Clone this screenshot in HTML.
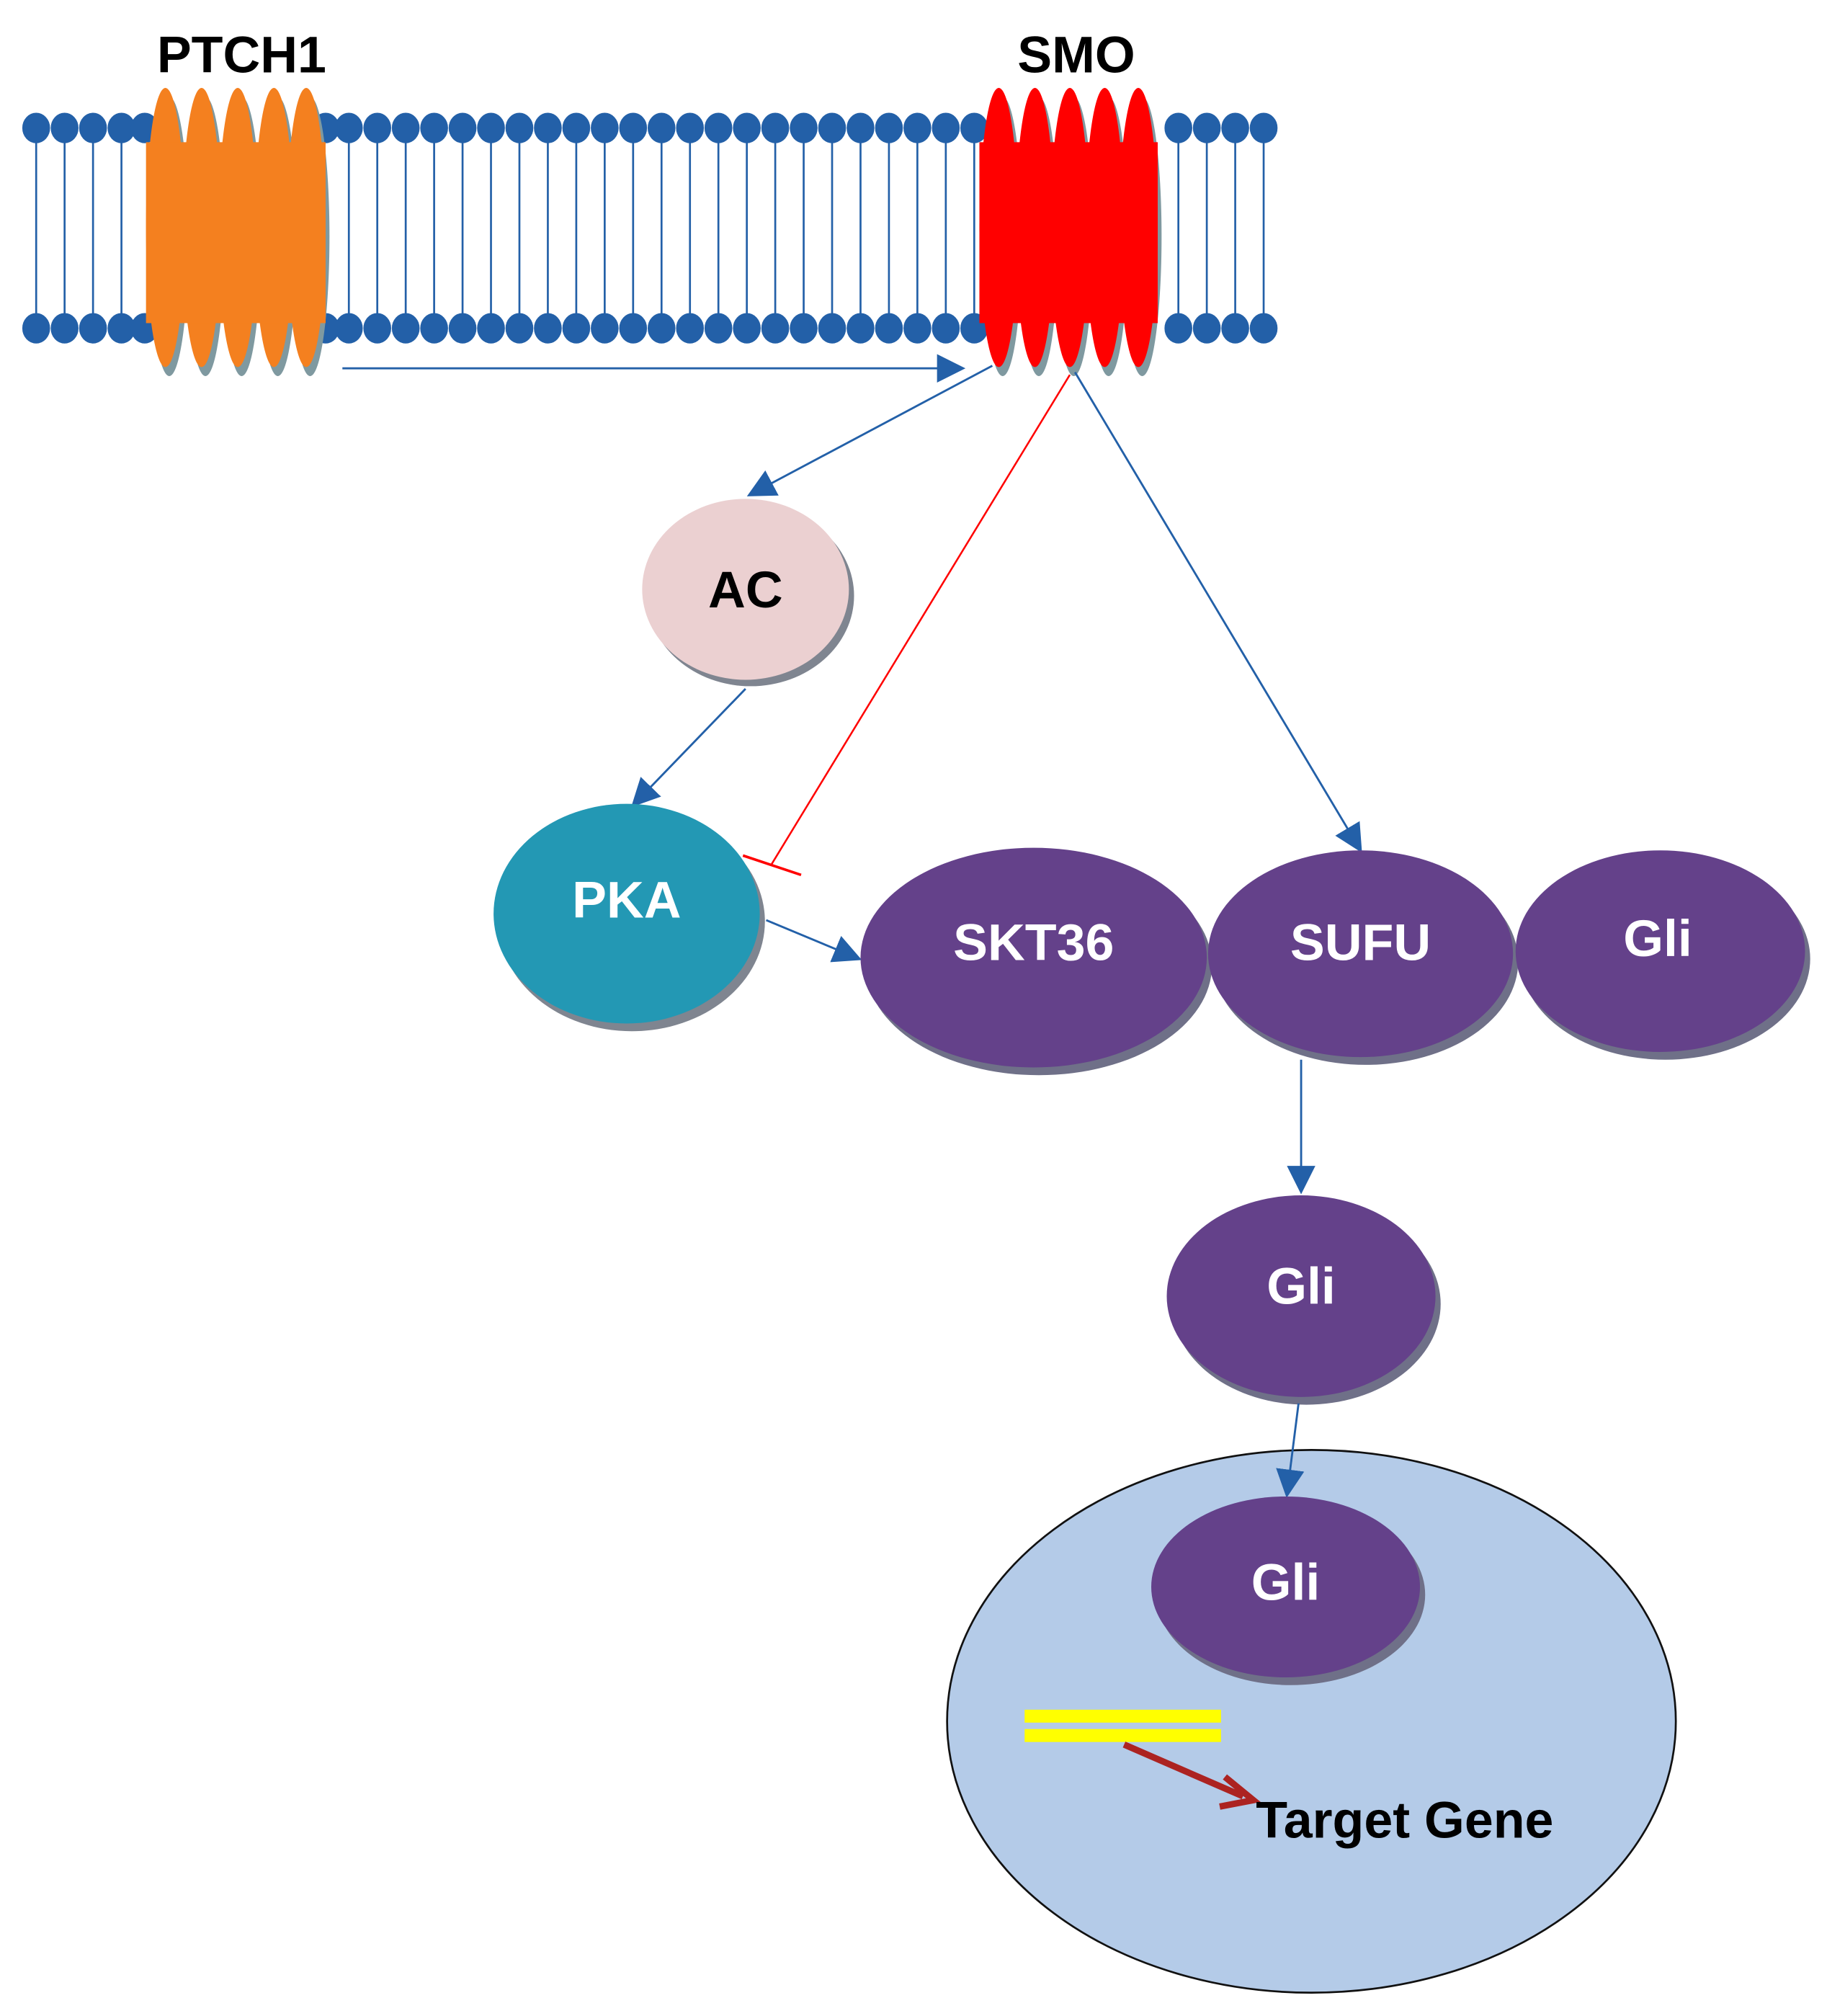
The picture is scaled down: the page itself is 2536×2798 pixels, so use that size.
<!DOCTYPE html>
<html><head><meta charset="utf-8"><style>html,body{margin:0;padding:0;background:#fff}svg{display:block}</style></head>
<body>
<svg width="2536" height="2798" viewBox="0 0 1414 1560" xmlns="http://www.w3.org/2000/svg" font-family="Liberation Sans, sans-serif" font-weight="bold">
<defs>
<marker id="ab2" viewBox="0 0 10 10" refX="9" refY="5" markerWidth="22" markerHeight="22" markerUnits="userSpaceOnUse" orient="auto"><path d="M0,0L10,5L0,10z" fill="#2360A8"/></marker>
</defs>
<g stroke="#2360A8" stroke-width="1.5" fill="#2360A8">
<line x1="28" y1="99" x2="28" y2="254"/><ellipse cx="28" cy="99" rx="10" ry="11"/><ellipse cx="28" cy="254" rx="10" ry="11"/>
<line x1="50" y1="99" x2="50" y2="254"/><ellipse cx="50" cy="99" rx="10" ry="11"/><ellipse cx="50" cy="254" rx="10" ry="11"/>
<line x1="72" y1="99" x2="72" y2="254"/><ellipse cx="72" cy="99" rx="10" ry="11"/><ellipse cx="72" cy="254" rx="10" ry="11"/>
<line x1="94" y1="99" x2="94" y2="254"/><ellipse cx="94" cy="99" rx="10" ry="11"/><ellipse cx="94" cy="254" rx="10" ry="11"/>
<line x1="270" y1="99" x2="270" y2="254"/><ellipse cx="270" cy="99" rx="10" ry="11"/><ellipse cx="270" cy="254" rx="10" ry="11"/>
<line x1="292" y1="99" x2="292" y2="254"/><ellipse cx="292" cy="99" rx="10" ry="11"/><ellipse cx="292" cy="254" rx="10" ry="11"/>
<line x1="314" y1="99" x2="314" y2="254"/><ellipse cx="314" cy="99" rx="10" ry="11"/><ellipse cx="314" cy="254" rx="10" ry="11"/>
<line x1="336" y1="99" x2="336" y2="254"/><ellipse cx="336" cy="99" rx="10" ry="11"/><ellipse cx="336" cy="254" rx="10" ry="11"/>
<line x1="358" y1="99" x2="358" y2="254"/><ellipse cx="358" cy="99" rx="10" ry="11"/><ellipse cx="358" cy="254" rx="10" ry="11"/>
<line x1="380" y1="99" x2="380" y2="254"/><ellipse cx="380" cy="99" rx="10" ry="11"/><ellipse cx="380" cy="254" rx="10" ry="11"/>
<line x1="402" y1="99" x2="402" y2="254"/><ellipse cx="402" cy="99" rx="10" ry="11"/><ellipse cx="402" cy="254" rx="10" ry="11"/>
<line x1="424" y1="99" x2="424" y2="254"/><ellipse cx="424" cy="99" rx="10" ry="11"/><ellipse cx="424" cy="254" rx="10" ry="11"/>
<line x1="446" y1="99" x2="446" y2="254"/><ellipse cx="446" cy="99" rx="10" ry="11"/><ellipse cx="446" cy="254" rx="10" ry="11"/>
<line x1="468" y1="99" x2="468" y2="254"/><ellipse cx="468" cy="99" rx="10" ry="11"/><ellipse cx="468" cy="254" rx="10" ry="11"/>
<line x1="490" y1="99" x2="490" y2="254"/><ellipse cx="490" cy="99" rx="10" ry="11"/><ellipse cx="490" cy="254" rx="10" ry="11"/>
<line x1="512" y1="99" x2="512" y2="254"/><ellipse cx="512" cy="99" rx="10" ry="11"/><ellipse cx="512" cy="254" rx="10" ry="11"/>
<line x1="534" y1="99" x2="534" y2="254"/><ellipse cx="534" cy="99" rx="10" ry="11"/><ellipse cx="534" cy="254" rx="10" ry="11"/>
<line x1="556" y1="99" x2="556" y2="254"/><ellipse cx="556" cy="99" rx="10" ry="11"/><ellipse cx="556" cy="254" rx="10" ry="11"/>
<line x1="578" y1="99" x2="578" y2="254"/><ellipse cx="578" cy="99" rx="10" ry="11"/><ellipse cx="578" cy="254" rx="10" ry="11"/>
<line x1="600" y1="99" x2="600" y2="254"/><ellipse cx="600" cy="99" rx="10" ry="11"/><ellipse cx="600" cy="254" rx="10" ry="11"/>
<line x1="622" y1="99" x2="622" y2="254"/><ellipse cx="622" cy="99" rx="10" ry="11"/><ellipse cx="622" cy="254" rx="10" ry="11"/>
<line x1="644" y1="99" x2="644" y2="254"/><ellipse cx="644" cy="99" rx="10" ry="11"/><ellipse cx="644" cy="254" rx="10" ry="11"/>
<line x1="666" y1="99" x2="666" y2="254"/><ellipse cx="666" cy="99" rx="10" ry="11"/><ellipse cx="666" cy="254" rx="10" ry="11"/>
<line x1="688" y1="99" x2="688" y2="254"/><ellipse cx="688" cy="99" rx="10" ry="11"/><ellipse cx="688" cy="254" rx="10" ry="11"/>
<line x1="710" y1="99" x2="710" y2="254"/><ellipse cx="710" cy="99" rx="10" ry="11"/><ellipse cx="710" cy="254" rx="10" ry="11"/>
<line x1="732" y1="99" x2="732" y2="254"/><ellipse cx="732" cy="99" rx="10" ry="11"/><ellipse cx="732" cy="254" rx="10" ry="11"/>
<line x1="754" y1="99" x2="754" y2="254"/><ellipse cx="754" cy="99" rx="10" ry="11"/><ellipse cx="754" cy="254" rx="10" ry="11"/>
<line x1="912" y1="99" x2="912" y2="254"/><ellipse cx="912" cy="99" rx="10" ry="11"/><ellipse cx="912" cy="254" rx="10" ry="11"/>
<line x1="934" y1="99" x2="934" y2="254"/><ellipse cx="934" cy="99" rx="10" ry="11"/><ellipse cx="934" cy="254" rx="10" ry="11"/>
<line x1="956" y1="99" x2="956" y2="254"/><ellipse cx="956" cy="99" rx="10" ry="11"/><ellipse cx="956" cy="254" rx="10" ry="11"/>
<line x1="978" y1="99" x2="978" y2="254"/><ellipse cx="978" cy="99" rx="10" ry="11"/><ellipse cx="978" cy="254" rx="10" ry="11"/>
<ellipse cx="112" cy="99" rx="10" ry="11"/><ellipse cx="112" cy="254" rx="10" ry="11"/>
<ellipse cx="252" cy="99" rx="10" ry="11"/><ellipse cx="252" cy="254" rx="10" ry="11"/>
</g>
<g fill="#7F99A0">
<ellipse cx="131" cy="183" rx="15" ry="108"/><ellipse cx="159" cy="183" rx="15" ry="108"/><ellipse cx="187" cy="183" rx="15" ry="108"/><ellipse cx="215" cy="183" rx="15" ry="108"/><ellipse cx="240" cy="183" rx="15" ry="108"/>
</g>
<g fill="#F4801F">
<ellipse cx="128" cy="176" rx="15" ry="108"/><ellipse cx="156" cy="176" rx="15" ry="108"/><ellipse cx="184" cy="176" rx="15" ry="108"/><ellipse cx="212" cy="176" rx="15" ry="108"/><ellipse cx="237" cy="176" rx="15" ry="108"/>
<rect x="113" y="110" width="139" height="140"/>
</g>
<g fill="#7F99A0">
<ellipse cx="776" cy="183" rx="15" ry="108"/><ellipse cx="804" cy="183" rx="15" ry="108"/><ellipse cx="831" cy="183" rx="15" ry="108"/><ellipse cx="858" cy="183" rx="15" ry="108"/><ellipse cx="884" cy="183" rx="15" ry="108"/>
</g>
<g fill="#FF0000">
<ellipse cx="773" cy="176" rx="15" ry="108"/><ellipse cx="801" cy="176" rx="15" ry="108"/><ellipse cx="828" cy="176" rx="15" ry="108"/><ellipse cx="855" cy="176" rx="15" ry="108"/><ellipse cx="881" cy="176" rx="15" ry="108"/>
<rect x="758" y="110" width="138" height="140"/>
</g>
<text x="187" y="56" font-size="40" text-anchor="middle" fill="#000">PTCH1</text>
<text x="833" y="56" font-size="40" text-anchor="middle" fill="#000">SMO</text>
<g stroke="#2360A8" stroke-width="1.6" fill="none">
<line x1="265" y1="285" x2="745" y2="285" marker-end="url(#ab2)"/>
<line x1="768" y1="283" x2="580" y2="383" marker-end="url(#ab2)"/>
<line x1="577" y1="533" x2="490" y2="623" marker-end="url(#ab2)"/>
<line x1="832" y1="288" x2="1053" y2="658" marker-end="url(#ab2)"/>
<line x1="593" y1="712" x2="665" y2="742" marker-end="url(#ab2)"/>
<line x1="1007" y1="820" x2="1007" y2="922" marker-end="url(#ab2)"/>
</g>
<line x1="828" y1="290" x2="597" y2="669" stroke="#FF0000" stroke-width="1.4"/>
<line x1="575" y1="662" x2="620" y2="677" stroke="#FF0000" stroke-width="2"/>
<ellipse cx="581" cy="461" rx="80" ry="70" fill="#7F8590"/>
<ellipse cx="577" cy="456" rx="80" ry="70" fill="#EBD0D1"/>
<text x="577" y="470" font-size="40" text-anchor="middle" fill="#000">AC</text>
<ellipse cx="489" cy="713" rx="103" ry="85" fill="#7F8590"/>
<ellipse cx="485" cy="707" rx="103" ry="85" fill="#2398B4"/>
<text x="485" y="710" font-size="40" text-anchor="middle" fill="#fff">PKA</text>
<ellipse cx="804" cy="747" rx="134" ry="85" fill="#6F7088"/>
<ellipse cx="800" cy="741" rx="134" ry="85" fill="#64418A"/>
<ellipse cx="1057" cy="744" rx="118" ry="80" fill="#6F7088"/>
<ellipse cx="1053" cy="738" rx="118" ry="80" fill="#64418A"/>
<ellipse cx="1289" cy="742" rx="112" ry="78" fill="#6F7088"/>
<ellipse cx="1285" cy="736" rx="112" ry="78" fill="#64418A"/>
<text x="800" y="743" font-size="40" text-anchor="middle" fill="#fff">SKT36</text>
<text x="1053" y="743" font-size="40" text-anchor="middle" fill="#fff">SUFU</text>
<text x="1283" y="740" font-size="40" text-anchor="middle" fill="#fff">Gli</text>
<ellipse cx="1011" cy="1009" rx="104" ry="78" fill="#6F7088"/>
<ellipse cx="1007" cy="1003" rx="104" ry="78" fill="#64418A"/>
<text x="1007" y="1009" font-size="40" text-anchor="middle" fill="#fff">Gli</text>
<ellipse cx="1015" cy="1332" rx="282" ry="210" fill="#B4CBE8" stroke="#111" stroke-width="1.5"/>
<line x1="1005" y1="1086" x2="996" y2="1157" stroke="#2360A8" stroke-width="1.6" marker-end="url(#ab2)"/>
<ellipse cx="999" cy="1234" rx="104" ry="70" fill="#6F7088"/>
<ellipse cx="995" cy="1228" rx="104" ry="70" fill="#64418A"/>
<text x="995" y="1238" font-size="40" text-anchor="middle" fill="#fff">Gli</text>
<rect x="793" y="1323" width="152" height="10" fill="#FFFF00"/>
<rect x="793" y="1338" width="152" height="10" fill="#FFFF00"/>
<line x1="870" y1="1350" x2="962" y2="1390" stroke="#AC2321" stroke-width="5"/>
<polyline points="948,1375 970,1393 944,1398" fill="none" stroke="#AC2321" stroke-width="5"/>
<text x="972" y="1422" font-size="40" fill="#000">Target Gene</text>
</svg>
</body></html>
